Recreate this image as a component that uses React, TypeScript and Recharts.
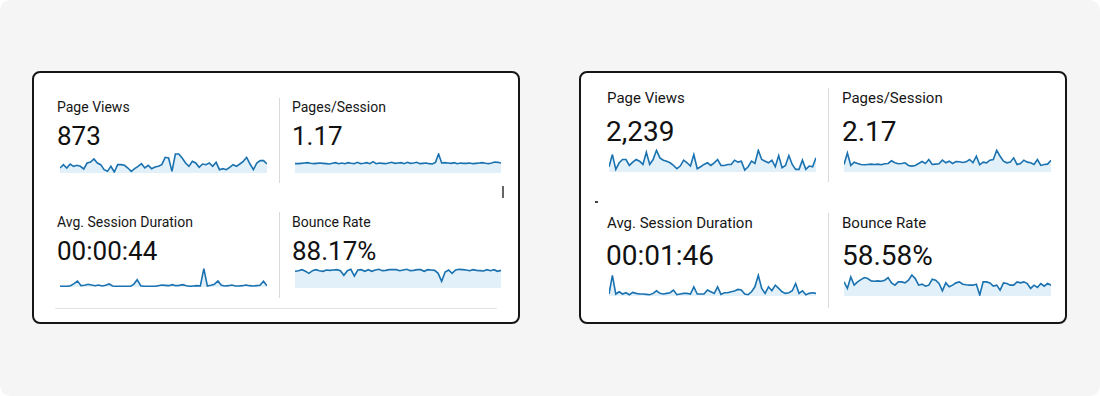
import React from "react";
import { AreaChart, Area, XAxis, YAxis } from "recharts";

// left card (period A)
const pageViewsA = [15, 25, 15, 27, 20, 23, 20, 12, 30, 33, 42, 30, 25, 10, 5, 20, 3, 25, 25, 23, 15, 5, 13, 20, 28, 15, 23, 13, 18, 20, 25, 47, 45, 5, 57, 57, 45, 30, 20, 35, 30, 17, 27, 25, 30, 20, 32, 10, 13, 10, 17, 25, 20, 27, 35, 47, 27, 10, 30, 37, 37, 27];
const pagesPerSessionA = [1.12, 1.12, 1.16, 1.2, 1.24, 1.16, 1.12, 1.16, 1.2, 1.16, 1.12, 1.08, 1.16, 1.24, 1.12, 1.2, 1.12, 1.24, 1.16, 1.12, 1.28, 1.12, 1.16, 1.24, 1.12, 1.36, 1.12, 1.2, 1.16, 1.12, 1.2, 1.28, 1.16, 1.2, 1.24, 1.12, 1.28, 1.16, 1.2, 1.28, 1.12, 1.16, 1.2, 1.12, 1.08, 1.28, 2.28, 1.2, 1.24, 1.2, 1.16, 1.24, 1.12, 1.2, 1.16, 1.16, 1.2, 1.12, 1.16, 1.2, 1.24, 1.16, 1.12, 1.2, 1.32, 1.28, 1.2];
const sessionDurationA = [20, 20, 20, 40, 100, 180, 40, 50, 80, 60, 40, 60, 30, 50, 90, 30, 20, 20, 20, 20, 20, 80, 220, 40, 20, 20, 20, 20, 40, 60, 50, 40, 70, 40, 50, 70, 40, 20, 30, 40, 30, 550, 30, 50, 80, 180, 50, 30, 40, 60, 30, 30, 40, 60, 40, 30, 40, 50, 170, 40];
const bounceRateA = [80, 83.2, 88, 80, 70.4, 83.2, 88, 83.2, 80, 86.4, 84.8, 86.4, 88, 83.2, 60.8, 83.2, 89.6, 57.6, 86.4, 88, 80, 88, 80, 86.4, 89.6, 83.2, 84.8, 88, 88, 88, 83.2, 86.4, 89.6, 83.2, 84.8, 88, 88, 80, 88, 86.4, 84.8, 70.4, 32, 76.8, 86.4, 70.4, 86.4, 89.6, 88, 86.4, 83.2, 88, 84.8, 83.2, 81.6, 88, 83.2, 88, 80, 84.8];

// right card (period B)
const pageViewsB = [16, 53, 8, 28, 38, 38, 20, 30, 38, 33, 23, 60, 23, 38, 66, 43, 36, 33, 28, 20, 10, 18, 36, 28, 18, 53, 10, 16, 23, 28, 20, 28, 38, 20, 20, 23, 23, 36, 30, 33, 6, 16, 33, 26, 66, 38, 33, 28, 36, 16, 50, 13, 20, 50, 23, 8, 8, 36, 8, 18, 16, 43];
const pagesPerSessionB = [1.84, 4.64, 1.6, 2.4, 2.08, 1.84, 1.76, 1.84, 1.92, 1.84, 1.92, 1.76, 2.0, 2.08, 2.72, 2.24, 2.0, 2.08, 2.24, 1.6, 1.44, 1.6, 2.08, 2.56, 2.08, 3.04, 1.84, 1.92, 2.0, 2.88, 2.24, 2.64, 2.08, 2.56, 2.48, 2.32, 2.48, 3.04, 2.24, 3.84, 1.76, 2.4, 2.24, 2.88, 3.04, 5.28, 3.84, 2.64, 2.24, 2.4, 3.44, 1.84, 2.08, 2.88, 2.4, 2.24, 1.84, 3.04, 1.6, 1.84, 1.92, 2.88];
const sessionDurationB = [48, 504, 48, 104, 48, 80, 32, 88, 64, 48, 48, 40, 32, 64, 128, 64, 48, 64, 80, 144, 32, 48, 64, 64, 48, 224, 48, 48, 48, 144, 104, 64, 224, 40, 80, 80, 104, 120, 160, 144, 48, 32, 104, 224, 504, 184, 64, 224, 128, 264, 184, 104, 64, 80, 128, 304, 64, 128, 32, 64, 80, 64];
const bounceRateB = [64.5, 34.5, 87, 49.5, 64.5, 75, 84, 79.5, 69, 67.5, 69, 67.5, 72, 84, 60, 49.5, 64.5, 64.5, 60, 72, 96, 79.5, 49.5, 54, 45, 49.5, 76.5, 72, 57, 24, 60, 42, 49.5, 60, 64.5, 54, 51, 49.5, 49.5, 54, 4.5, 64.5, 64.5, 60, 45, 49.5, 27, 60, 57, 49.5, 49.5, 64.5, 60, 64.5, 57, 34.5, 49.5, 39, 57, 45, 57, 49.5];

const LINE = "#1a72b0";
const FILL = "#e2f0f9";
const FONT = "Roboto, 'Noto Sans', Arial, sans-serif";

type SparkProps = { values: number[]; max: number; x: number; y: number; w: number; h: number };

function Spark({ values, max, x, y, w, h }: SparkProps) {
  const data = values.map((v, i) => ({ i, v }));
  return (
    <div style={{ position: "absolute", left: x, top: y }}>
      <AreaChart width={w} height={h} data={data} margin={{ top: 0, right: 0, bottom: 0, left: 0 }}>
        <XAxis dataKey="i" hide />
        <YAxis hide domain={[0, max]} />
        <Area
          type="linear"
          dataKey="v"
          stroke={LINE}
          strokeWidth={1.6}
          fill={FILL}
          fillOpacity={1}
          dot={false}
          activeDot={false}
          isAnimationActive={false}
        />
      </AreaChart>
    </div>
  );
}

function Text({ x, y, size, children, color }: { x: number; y: number; size: number; children: React.ReactNode; color?: string }) {
  return (
    <div
      style={{
        position: "absolute",
        left: x,
        top: y,
        fontSize: size,
        lineHeight: `${size}px`,
        fontFamily: FONT,
        color: color || "#161616",
        whiteSpace: "nowrap",
      }}
    >
      {children}
    </div>
  );
}

function Line({ x, y, w, h, color }: { x: number; y: number; w: number; h: number; color: string }) {
  return <div style={{ position: "absolute", left: x, top: y, width: w, height: h, background: color }} />;
}

const cardStyle = (left: number): React.CSSProperties => ({
  position: "absolute",
  left,
  top: 71,
  width: 488,
  height: 253,
  boxSizing: "border-box",
  border: "2px solid #161616",
  borderRadius: 8,
  background: "#ffffff",
});

export default function App() {
  return (
    <div
      style={{
        position: "absolute",
        left: 0,
        top: 0,
        width: 1100,
        height: 396,
        background: "#f5f5f5",
        borderRadius: 10,
        overflow: "hidden",
      }}
    >
      <div style={cardStyle(32)} />
      <div style={cardStyle(579)} />

      {/* left card */}
      <Line x={279} y={98} w={1} h={85} color="#d9d9d9" />
      <Line x={279} y={212} w={1} h={86} color="#d9d9d9" />
      <Line x={55} y={308} w={442} h={1} color="#e3e3e3" />
      <Line x={502} y={186} w={1.5} h={12} color="#666" />

      <Text x={57} y={100} size={14}>Page Views</Text>
      <Text x={57} y={123} size={26} color="#111">873</Text>
      <Spark values={pageViewsA} max={60} x={60} y={153} w={207} h={20} />

      <Text x={292} y={100} size={14}>Pages/Session</Text>
      <Text x={292} y={123} size={26} color="#111">1.17</Text>
      <Spark values={pagesPerSessionA} max={2.4} x={295} y={153} w={206} h={20} />

      <Text x={57} y={215} size={14}>Avg. Session Duration</Text>
      <Text x={57} y={238} size={26} color="#111">00:00:44</Text>
      <Spark values={sessionDurationA} max={600} x={60} y={267} w={207} h={20} />

      <Text x={292} y={215} size={14}>Bounce Rate</Text>
      <Text x={292} y={238} size={26} color="#111">88.17%</Text>
      <Spark values={bounceRateA} max={96} x={295} y={268} w={206} h={20} />

      {/* right card */}
      <Line x={828} y={88} w={1} h={94} color="#d9d9d9" />
      <Line x={828} y={213} w={1} h={95} color="#d9d9d9" />
      <Line x={595} y={201} w={3} h={1.5} color="#444" />

      <Text x={607} y={91} size={15}>Page Views</Text>
      <Text x={606} y={118} size={28} color="#111">2,239</Text>
      <Spark values={pageViewsB} max={70} x={609} y={149} w={207} h={23} />

      <Text x={842} y={91} size={15}>Pages/Session</Text>
      <Text x={842} y={118} size={28} color="#111">2.17</Text>
      <Spark values={pagesPerSessionB} max={5.6} x={844} y={149} w={207} h={23} />

      <Text x={607} y={216} size={15}>Avg. Session Duration</Text>
      <Text x={606} y={242} size={28} color="#111">00:01:46</Text>
      <Spark values={sessionDurationB} max={560} x={609} y={273} w={207} h={23} />

      <Text x={842} y={216} size={15}>Bounce Rate</Text>
      <Text x={842} y={242} size={28} color="#111">58.58%</Text>
      <Spark values={bounceRateB} max={105} x={844} y={273} w={207} h={23} />
    </div>
  );
}
